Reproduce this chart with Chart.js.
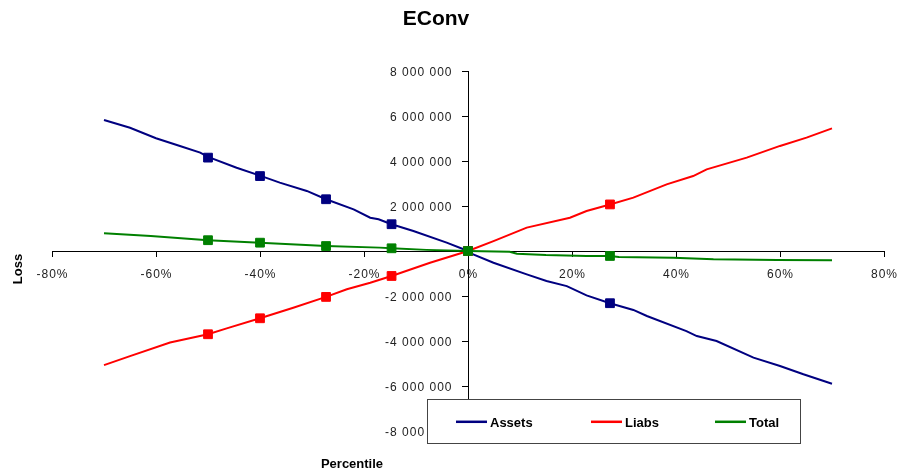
<!DOCTYPE html>
<html>
<head>
<meta charset="utf-8">
<title>EConv</title>
<script src="https://cdn.jsdelivr.net/npm/chart.js@4"></script>
<style>
  html, body { margin: 0; padding: 0; background: #fff; }
  #wrap { width: 902px; height: 475px; }
</style>
</head>
<body>
<div id="wrap"><canvas id="chart" width="902" height="475"></canvas></div>
<script>
// percentile (x, in %) and loss values (in millions)
const assetsX = [-70, -65, -60, -55.4, -51.5, -50, -44.5, -40, -36.2, -31, -27.3, -22, -18.8, -17.2, -14.7, -10.5, -4.1, 0, 1, 4.9, 11.3, 15.1, 19, 22.8, 27.3, 31.8, 34.4, 42, 44, 47.8, 54.9, 60, 64.5, 70];
const assetsY = [5.82, 5.48, 5.01, 4.67, 4.37, 4.18, 3.70, 3.35, 3.04, 2.67, 2.30, 1.85, 1.48, 1.41, 1.19, 0.89, 0.37, 0, -0.15, -0.52, -1.04, -1.33, -1.56, -1.97, -2.32, -2.62, -2.89, -3.56, -3.78, -4.0, -4.74, -5.11, -5.48, -5.90];

const liabsX = [-70, -65, -57.3, -50, -46.4, -40, -33.6, -27.3, -23.3, -18.8, -14.7, -7.3, 0, 4.9, 11.3, 19.6, 22.8, 27.3, 31.8, 38.2, 43.3, 45.9, 53.6, 60, 65.1, 70];
const liabsY = [-5.07, -4.67, -4.07, -3.70, -3.44, -2.99, -2.52, -2.04, -1.70, -1.41, -1.11, -0.52, 0, 0.44, 1.04, 1.48, 1.78, 2.07, 2.37, 2.96, 3.33, 3.63, 4.15, 4.67, 5.04, 5.45];

const totalX = [-70, -61, -50, -40, -27.3, -17, -14.7, -8, 0, 8, 9.4, 15, 22.8, 27.3, 29, 39.5, 47.2, 59.4, 70];
const totalY = [0.79, 0.67, 0.48, 0.37, 0.22, 0.15, 0.12, 0.05, 0, -0.03, -0.12, -0.18, -0.22, -0.22, -0.27, -0.30, -0.37, -0.40, -0.41];

// the square markers
const markerX = [-50, -40, -27.3, -14.7, 0, 27.3];
const assetsMarkers = [4.15, 3.33, 2.30, 1.19, 0, -2.32];
const liabsMarkers = [-3.70, -2.99, -2.04, -1.11, 0, 2.07];
const totalMarkers = [0.48, 0.37, 0.22, 0.12, 0, -0.22];

const seriesNames = ["Assets", "Liabs", "Total"];
const seriesColors = ["#000080", "#ff0000", "#008000"];

const FONT = "'Liberation Sans', Arial, sans-serif";

function toPoints(xs, ys) {
  return xs.map((x, i) => ({ x: x, y: ys[i] * 1000000 }));
}

function fmtNumber(v) {
  const s = Math.abs(v).toFixed(0).replace(/\B(?=(\d{3})+(?!\d))/g, " ");
  return (v < 0 ? "-" : "") + s;
}

function lineSet(name, xs, ys, color, order) {
  return {
    label: name,
    data: toPoints(xs, ys),
    showLine: true,
    borderColor: color,
    backgroundColor: color,
    borderWidth: 2,
    pointRadius: 0,
    tension: 0,
    order: order,
  };
}

function markerSet(name, ys, color, order) {
  return {
    label: name + " markers",
    data: toPoints(markerX, ys),
    showLine: false,
    pointStyle: "rect",
    pointRadius: 6.2,
    pointBorderWidth: 1,
    pointBackgroundColor: color,
    pointBorderColor: color,
    order: order,
  };
}

// tick labels sit beside the crossing axes, spaced out like Excel's
const tickText = {
  id: "tickText",
  beforeDatasetsDraw(chart) {
    const ctx = chart.ctx;
    const xs = chart.scales.x;
    const ys = chart.scales.y;
    const x0 = xs.getPixelForValue(0);
    const y0 = ys.getPixelForValue(0);
    ctx.save();
    ctx.fillStyle = "#222";
    ctx.font = "12px " + FONT;
    ctx.letterSpacing = "1px";
    ctx.textBaseline = "alphabetic";
    ctx.textAlign = "center";
    xs.ticks.forEach((t) => {
      ctx.fillText(t.value + "%", xs.getPixelForValue(t.value) + 0.5, y0 + 27);
    });
    ctx.textAlign = "right";
    ys.ticks.forEach((t) => {
      if (t.value === 0) return;
      ctx.fillText(fmtNumber(t.value), x0 - 15.5, ys.getPixelForValue(t.value) + 4.5);
    });
    ctx.restore();
  },
};

// title, axis titles and the boxed legend
const decorations = {
  id: "decorations",
  afterDraw(chart) {
    const ctx = chart.ctx;
    ctx.save();
    ctx.fillStyle = "#000";
    ctx.textAlign = "center";
    ctx.textBaseline = "alphabetic";
    ctx.font = "bold 21px " + FONT;
    ctx.fillText("EConv", 436, 25);

    ctx.font = "bold 13px " + FONT;
    ctx.fillText("Percentile", 352, 468);
    ctx.save();
    ctx.translate(21.5, 269);
    ctx.rotate(-Math.PI / 2);
    ctx.fillText("Loss", 0, 0);
    ctx.restore();

    // legend box
    ctx.fillStyle = "#fff";
    ctx.fillRect(427, 399, 373, 44);
    ctx.strokeStyle = "#444";
    ctx.lineWidth = 1;
    ctx.strokeRect(427.5, 399.5, 373, 44);
    const starts = [456, 591, 715];
    ctx.textAlign = "left";
    seriesNames.forEach((name, i) => {
      ctx.strokeStyle = seriesColors[i];
      ctx.lineWidth = 2.5;
      ctx.beginPath();
      ctx.moveTo(starts[i], 421.8);
      ctx.lineTo(starts[i] + 31, 421.8);
      ctx.stroke();
      ctx.fillStyle = "#000";
      ctx.fillText(name, starts[i] + 34, 426.5);
    });
    ctx.restore();
  },
};

new Chart(document.getElementById("chart"), {
  type: "scatter",
  data: {
    datasets: [
      markerSet("Total", totalMarkers, seriesColors[2], 0),
      lineSet("Total", totalX, totalY, seriesColors[2], 1),
      markerSet("Liabs", liabsMarkers, seriesColors[1], 2),
      lineSet("Liabs", liabsX, liabsY, seriesColors[1], 3),
      markerSet("Assets", assetsMarkers, seriesColors[0], 4),
      lineSet("Assets", assetsX, assetsY, seriesColors[0], 5),
    ],
  },
  options: {
    responsive: false,
    animation: false,
    layout: { padding: { left: 52, right: 18, top: 71, bottom: 44 } },
    plugins: {
      legend: { display: false },
      title: { display: false },
      tooltip: { enabled: false },
    },
    scales: {
      x: {
        type: "linear",
        position: { y: 0 },
        min: -80,
        max: 80,
        grid: { drawOnChartArea: false, drawTicks: true, tickLength: 5, color: "#000" },
        border: { display: true, color: "#000", width: 1 },
        ticks: { stepSize: 20, display: false },
      },
      y: {
        type: "linear",
        position: { x: 0 },
        min: -8000000,
        max: 8000000,
        grid: { drawOnChartArea: false, drawTicks: true, tickLength: 6, color: "#000" },
        border: { display: true, color: "#000", width: 1 },
        ticks: { stepSize: 2000000, display: false },
      },
    },
  },
  plugins: [tickText, decorations],
});
</script>
</body>
</html>
